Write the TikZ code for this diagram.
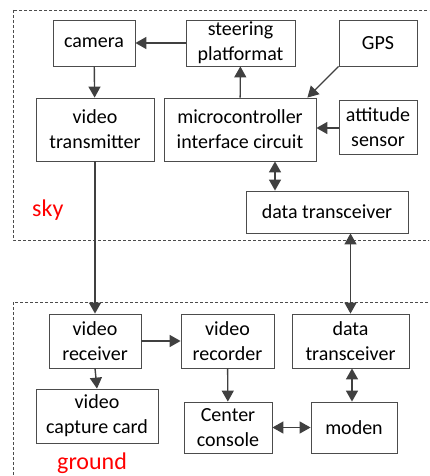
\documentclass[tikz,border=0pt]{standalone}
\usepackage{fontspec}
\setmainfont{Carlito}
\usetikzlibrary{arrows.meta}

\begin{document}
\begin{tikzpicture}[x=1pt,y=-1pt,
	block/.style={shape=rectangle,draw=black!70,line width=0.8pt,align=center,inner sep=0pt,
		font=\fontsize{20}{25}\selectfont},
	link/.style={draw=black!75,line width=1.4pt,-{Triangle[length=11pt,width=12pt]}},
	both/.style={link,{Triangle[length=11pt,width=12pt]}-{Triangle[length=11pt,width=12pt]}},
	zone/.style={draw=black!70,dash pattern=on 3pt off 2pt,line width=0.6pt},
	tag/.style={text=red,font=\fontsize{24}{28}\selectfont,inner sep=0pt,anchor=base west}]
	\clip (0,0) rectangle (429,476);

	% sky side
	\draw[zone] (13,10) rectangle (440,240);
	\node[block,minimum width=82pt,minimum height=46pt] (camera) at (94,43)    {camera};
	\node[block,minimum width=109pt,minimum height=46pt] (steer) at (240.5,43) {steering\\platformat};
	\node[block,minimum width=78pt,minimum height=46pt] (gps) at (378,43)      {GPS};
	\node[block,minimum width=118pt,minimum height=63pt] (vtx) at (95,129.5)   {video\\transmitter};
	\node[block,minimum width=152pt,minimum height=63pt] (mcu) at (240,129.5)  {microcontroller\\interface circuit};
	\node[block,minimum width=78pt,minimum height=54pt] (att) at (378,127)     {attitude\\sensor};
	\node[block,minimum width=162pt,minimum height=42pt] (dtxa) at (327,212)   {data transceiver};
	\node[tag] (sky) at (32,216) {sky};

	% ground side
	\draw[zone] (13,302) rectangle (440,490);
	\node[block,minimum width=92pt,minimum height=54pt] (vrx) at (95,341)      {video\\receiver};
	\node[block,minimum width=93pt,minimum height=54pt] (vrec) at (227.5,341)  {video\\recorder};
	\node[block,minimum width=117pt,minimum height=54pt] (dtxb) at (350.5,341) {data\\transceiver};
	\node[block,minimum width=122pt,minimum height=54pt] (vcap) at (97,416)    {video\\capture card};
	\node[block,minimum width=88pt,minimum height=51pt] (center) at (228,427.5) {Center\\console};
	\node[block,minimum width=86pt,minimum height=51pt] (moden) at (354,427.5) {moden};
	\node[tag] (ground) at (57,469) {ground};

	\path[link] (steer) -- (camera);
	\path[link] (camera) -- (vtx);
	\path[link] (mcu) -- (steer);
	\path[link] (gps.south west) -- ([xshift=-9pt]mcu.north east);
	\path[link] (att.west |- 0,128) -- (mcu.east |- 0,128);
	\path[both] ([xshift=35pt]mcu.south) -- ([xshift=35pt]mcu.south |- dtxa.north);
	\path[link] (vtx) -- (vrx);
	\path[both] (dtxb.north |- dtxa.south) -- (dtxb.north);
	\path[link] (vrx) -- (vrec);
	\path[link] (vrx.south) -- (vcap.north);
	\path[link] (vrec) -- (center);
	\path[both] (center) -- (moden);
	\path[both] ([xshift=1.5pt]dtxb.south) -- ([xshift=1.5pt]dtxb.south |- moden.north);
\end{tikzpicture}
\end{document}
